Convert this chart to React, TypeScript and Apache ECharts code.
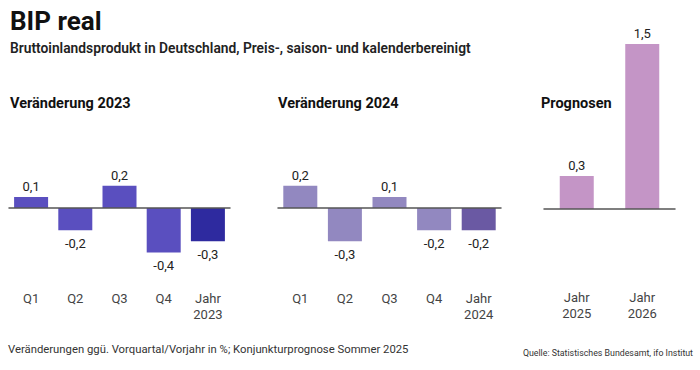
import React, { useEffect, useRef } from "react";
import * as echarts from "echarts";

const cats2023 = ["Q1", "Q2", "Q3", "Q4", "Jahr\n2023"];
const vals2023 = [0.1, -0.2, 0.2, -0.4, -0.3];
const cats2024 = ["Q1", "Q2", "Q3", "Q4", "Jahr\n2024"];
const vals2024 = [0.2, -0.3, 0.1, -0.2, -0.2];
const catsProg = ["Jahr\n2025", "Jahr\n2026"];
const valsProg = [0.3, 1.5];

const FONT = "Roboto, 'Noto Sans', sans-serif";

function barData(vals: number[], qColor: string, yColor: string | null) {
  return vals.map((v, i) => ({
    value: v,
    itemStyle: { color: yColor && i === vals.length - 1 ? yColor : qColor },
    label: {
      position: v >= 0 ? "top" : "bottom",
      distance: v >= 0 ? 4 : 7,
    },
  }));
}

export default function App() {
  const ref = useRef<HTMLDivElement>(null);
  useEffect(() => {
    if (!ref.current) return;
    const chart = echarts.init(ref.current, null, { renderer: "svg" });
    const axisCommon = (i: number, data: string[], margin: number) => ({
      type: "category",
      gridIndex: i,
      data,
      axisLine: { show: true, onZero: true, lineStyle: { color: "#555", width: 1.5 } },
      axisTick: { show: false },
      axisLabel: {
        margin,
        verticalAlign: "top",
        fontFamily: FONT,
        fontSize: 13,
        color: "#444",
        lineHeight: 16,
        interval: 0,
      },
      z: 5,
    });
    const yCommon = (i: number, min: number, max: number) => ({
      type: "value",
      gridIndex: i,
      min,
      max,
      show: false,
      splitLine: { show: false },
    });
    const label = {
      show: true,
      fontFamily: FONT,
      fontSize: 13,
      color: "#222",
      formatter: (p: any) => String(p.value).replace(".", ","),
    };
    chart.setOption({
      animation: false,
      backgroundColor: "#fff",
      grid: [
        { left: 9, width: 221, top: 97, height: 222, outerBoundsMode: "none", containLabel: false },
        { left: 278, width: 223, top: 97, height: 222, outerBoundsMode: "none", containLabel: false },
        { left: 544, width: 131, top: 44, height: 165, outerBoundsMode: "none", containLabel: false },
      ],
      xAxis: [axisCommon(0, cats2023, -29), axisCommon(1, cats2024, -29), axisCommon(2, catsProg, 80)],
      yAxis: [yCommon(0, -1, 1), yCommon(1, -1, 1), yCommon(2, 0, 1.5)],
      series: [
        {
          type: "bar",
          xAxisIndex: 0,
          yAxisIndex: 0,
          barWidth: 34,
          data: barData(vals2023, "#5a4fbf", "#2e2a9f"),
          label,
        },
        {
          type: "bar",
          xAxisIndex: 1,
          yAxisIndex: 1,
          barWidth: 34,
          data: barData(vals2024, "#9288c0", "#6a59a3"),
          label,
        },
        {
          type: "bar",
          xAxisIndex: 2,
          yAxisIndex: 2,
          barWidth: 34,
          data: barData(valsProg, "#c495c6", null),
          label,
        },
      ],
      graphic: [
        {
          type: "text",
          left: 10,
          top: 8,
          style: { text: "BIP real", fontFamily: FONT, fontSize: 26, fontWeight: "bold", fill: "#111" },
        },
        {
          type: "text",
          left: 10,
          top: 41,
          style: {
            text: "Bruttoinlandsprodukt in Deutschland, Preis-, saison- und kalenderbereinigt",
            fontFamily: FONT,
            fontSize: 13.8,
            fontWeight: 600,
            fill: "#222",
          },
        },
        {
          type: "text",
          left: 10,
          top: 96,
          style: { text: "Veränderung 2023", fontFamily: FONT, fontSize: 14.5, fontWeight: "bold", fill: "#111" },
        },
        {
          type: "text",
          left: 278,
          top: 96,
          style: { text: "Veränderung 2024", fontFamily: FONT, fontSize: 14.5, fontWeight: "bold", fill: "#111" },
        },
        {
          type: "text",
          left: 541,
          top: 96,
          style: { text: "Prognosen", fontFamily: FONT, fontSize: 14.5, fontWeight: "bold", fill: "#111" },
        },
        {
          type: "text",
          left: 8,
          top: 344,
          style: {
            text: "Veränderungen ggü. Vorquartal/Vorjahr in %; Konjunkturprognose Sommer 2025",
            fontFamily: FONT,
            fontSize: 11.3,
            fill: "#333",
          },
        },
        {
          type: "text",
          right: 7,
          top: 348,
          style: {
            text: "Quelle: Statistisches Bundesamt, ifo Institut",
            fontFamily: FONT,
            fontSize: 8.8,
            fill: "#333",
          },
        },
      ],
    });
    return () => chart.dispose();
  }, []);
  return <div ref={ref} style={{ width: 700, height: 370, position: "absolute", left: 0, top: 0 }} />;
}
